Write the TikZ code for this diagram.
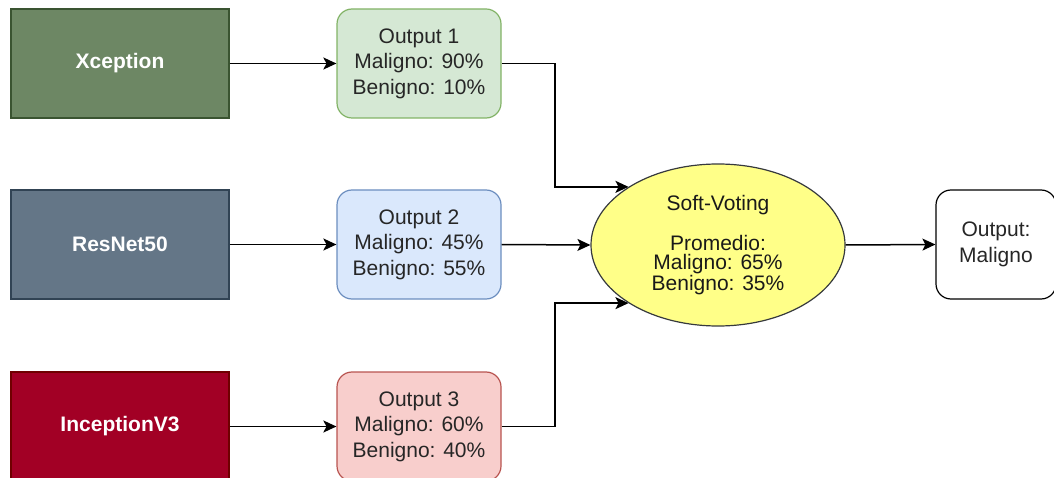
\documentclass[tikz,border=0pt]{standalone}
\usepackage{fontspec}
\setmainfont{Liberation Sans}
\usetikzlibrary{shapes.geometric,arrows.meta}

\definecolor{xcFill}{HTML}{6D8764}\definecolor{xcLine}{HTML}{3A5431}
\definecolor{rnFill}{HTML}{647687}\definecolor{rnLine}{HTML}{314354}
\definecolor{icFill}{HTML}{A20025}\definecolor{icLine}{HTML}{6F0000}
\definecolor{gFill}{HTML}{D5E8D4}\definecolor{gLine}{HTML}{82B366}
\definecolor{bFill}{HTML}{DAE8FC}\definecolor{bLine}{HTML}{6C8EBF}
\definecolor{rFill}{HTML}{F8CECC}\definecolor{rLine}{HTML}{B85450}
\definecolor{yFill}{HTML}{FFFF88}\definecolor{yLine}{HTML}{36393D}

\tikzset{
  model/.style={draw, line width=1.2pt, minimum width=218pt, minimum height=109pt,
    inner sep=0pt, text=white, font=\fontsize{21}{25}\selectfont\bfseries},
  result/.style={draw, line width=1.2pt, rounded corners=15pt, minimum width=164pt,
    minimum height=109pt, inner sep=0pt, align=center, text=black!85,
    font=\fontsize{21}{25.5}\selectfont},
  voter/.style={ellipse, draw=yLine, fill=yFill, line width=1.2pt, minimum width=254pt,
    minimum height=162pt, inner sep=0pt, align=center, text=black!90,
    font=\fontsize{21}{19}\selectfont},
  link/.style={line width=1.5pt, -{Stealth[length=13pt,width=12pt,inset=3pt]}}
}

\begin{document}
\begin{tikzpicture}[x=1pt,y=-1pt]
\useasboundingbox (0,0) rectangle (1054,478);
\clip (0,0) rectangle (1054,478);

% base models
\node[model, fill=xcFill, draw=xcLine] (xc) at (120,63.5) {Xception};
\node[model, fill=rnFill, draw=rnLine] (rn) at (120,244.5) {ResNet50};
\node[model, fill=icFill, draw=icLine] (ic) at (120,426.5) {InceptionV3};

% per-model outputs
\node[result, fill=gFill, draw=gLine] (o1) at (419,63.5) {Output 1\\Maligno: 90\%\\Benigno: 10\%};
\node[result, fill=bFill, draw=bLine] (o2) at (419,244.5) {Output 2\\Maligno: 45\%\\Benigno: 55\%};
\node[result, fill=rFill, draw=rLine] (o3) at (419,426.5) {Output 3\\Maligno: 60\%\\Benigno: 40\%};

% soft voting
\node[voter] (sv) at (718,245) {Soft-Voting\\[19pt]Promedio:\\Maligno: 65\%\\Benigno: 35\%};

% final decision
\node[draw, line width=1.2pt, rounded corners=15pt, minimum width=120pt, minimum height=109pt,
  inner sep=0pt, align=center, text=black!85, font=\fontsize{21}{25.5}\selectfont]
  (out) at (996,244.5) {Output:\\Maligno};

\coordinate (k) at (555,0);

\draw[link] (xc.east) -- (o1.west);
\draw[link] (rn.east) -- (o2.west);
\draw[link] (ic.east) -- (o3.west);

\draw[link] (o1.east) -| (k |- sv.147) -- (sv.147);
\draw[link] (o2.east) -- (sv.west);
\draw[link] (o3.east) -| (k |- sv.213) -- (sv.213);

\draw[link] (sv.east) -- (out.west);
\end{tikzpicture}
\end{document}
